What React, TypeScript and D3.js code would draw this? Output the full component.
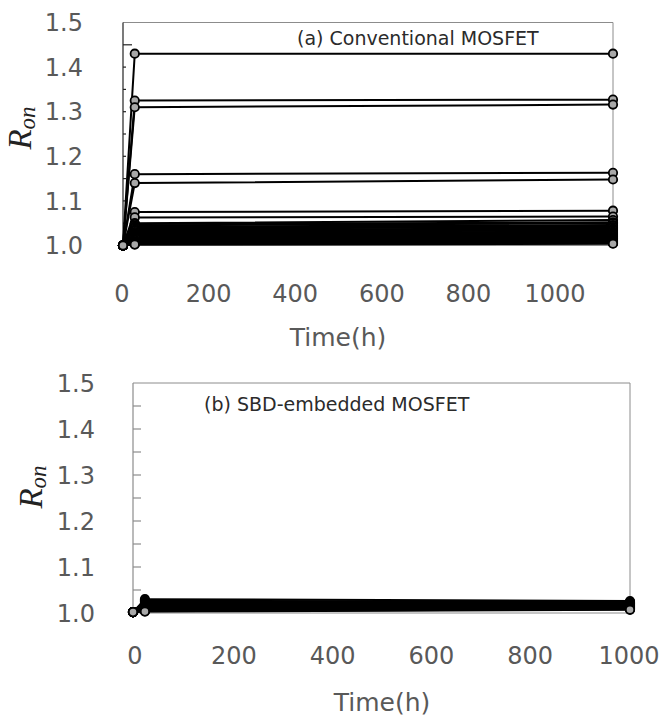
import React from "react";
import * as d3 from "d3";

// measurement times (h)
const times = [0, 24, 1000];

// (a) conventional MOSFET: Ron at 0 h, 24 h and 1000 h
const convStart = 1.0;
const convAt24 = [
  1.43, 1.325, 1.31, 1.16, 1.14, 1.075, 1.063, 1.05, 1.048, 1.045, 1.042, 1.04,
  1.038, 1.035, 1.033, 1.03, 1.028, 1.026, 1.024, 1.022, 1.02, 1.018, 1.016,
  1.014, 1.012, 1.01, 1.008, 1.006, 1.005, 1.004, 1.003, 1.002,
];
const convAt1000 = [
  1.43, 1.327, 1.316, 1.163, 1.148, 1.078, 1.065, 1.057, 1.052, 1.05, 1.046,
  1.044, 1.041, 1.038, 1.036, 1.034, 1.031, 1.029, 1.027, 1.025, 1.023, 1.021,
  1.019, 1.017, 1.015, 1.013, 1.011, 1.009, 1.008, 1.006, 1.005, 1.004,
];

// (b) SBD-embedded MOSFET
const sbdStart = 1.002;
const sbdAt24 = [
  1.03, 1.027, 1.025, 1.022, 1.02, 1.018, 1.016, 1.015, 1.013, 1.012, 1.011,
  1.01, 1.009, 1.008, 1.007, 1.006, 1.005, 1.004, 1.003,
];
const sbdAt1000 = [
  1.026, 1.024, 1.023, 1.022, 1.021, 1.02, 1.019, 1.018, 1.017, 1.016, 1.015,
  1.014, 1.013, 1.012, 1.011, 1.01, 1.009, 1.008, 1.007,
];

const yTicks = [1.0, 1.1, 1.2, 1.3, 1.4, 1.5];
const yMinorTicks = [1.05, 1.1, 1.15, 1.2, 1.25, 1.3, 1.35, 1.4, 1.45];
const xTicks = [0, 200, 400, 600, 800, 1000];

const tickFont = "'DejaVu Sans', Verdana, sans-serif";
const labelGray = "#595959";

type PanelProps = {
  title: string;
  titleX: number;
  titleY: number;
  start: number;
  at24: number[];
  at1000: number[];
  plotX: [number, number];
  plotY: [number, number];
  labelX: [number, number];
  yLabelRight: number;
  xLabelY: number;
  timeX: number;
  timeY: number;
  ronX: number;
  ronY: number;
  axisColor: string;
  tickLen: (v: number) => number;
  tickColor: string;
};

const Panel = (p: PanelProps) => {
  const x = d3.scaleLinear().domain([0, 1000]).range(p.plotX);
  const xLab = d3.scaleLinear().domain([0, 1000]).range(p.labelX);
  const y = d3.scaleLinear().domain([1.0, 1.5]).range(p.plotY);

  const series = p.at24.map((v, i) => [p.start, v, p.at1000[i]]);
  const line = d3
    .line<number>()
    .x((d, i) => x(times[i]))
    .y((d) => y(d));

  const [x0, x1] = p.plotX;
  const [yb, yt] = p.plotY;

  return (
    <g>
      {/* frame */}
      <line x1={x0} x2={x1} y1={yt} y2={yt} stroke="#8c8c8c" strokeWidth={1} />
      <line x1={x1} x2={x1} y1={yt} y2={yb} stroke="#8c8c8c" strokeWidth={1} />
      <line x1={x0} x2={x1} y1={yb} y2={yb} stroke="#8c8c8c" strokeWidth={1} />
      <line x1={x0} x2={x0} y1={yt} y2={yb} stroke={p.axisColor} strokeWidth={1.2} />
      {yMinorTicks.map((t) => (
        <line
          key={t}
          x1={x0}
          x2={x0 + p.tickLen(t)}
          y1={y(t)}
          y2={y(t)}
          stroke={p.tickColor}
          strokeWidth={1.2}
        />
      ))}

      {/* y tick labels */}
      {yTicks.map((t) => (
        <text
          key={t}
          x={p.yLabelRight}
          y={y(t)}
          dy="0.36em"
          textAnchor="end"
          fontFamily={tickFont}
          fontSize={24}
          fill={labelGray}
        >
          {d3.format(".1f")(t)}
        </text>
      ))}

      {/* x tick labels */}
      {xTicks.map((t) => (
        <text
          key={t}
          x={xLab(t)}
          y={p.xLabelY}
          dy="0.36em"
          textAnchor="middle"
          fontFamily={tickFont}
          fontSize={24}
          fill={labelGray}
        >
          {t}
        </text>
      ))}

      <text
        x={p.timeX}
        y={p.timeY}
        dy="0.36em"
        textAnchor="middle"
        fontFamily={tickFont}
        fontSize={25}
        fill={labelGray}
      >
        Time(h)
      </text>

      <text
        transform={`translate(${p.ronX},${p.ronY}) rotate(-90)`}
        textAnchor="middle"
        fontFamily="'Liberation Serif', serif"
        fontStyle="italic"
        fontSize={33}
        fill="#222"
      >
        R
        <tspan fontSize={23} dy={4}>
          on
        </tspan>
      </text>

      <text
        x={p.titleX}
        y={p.titleY}
        dy="0.36em"
        fontFamily={tickFont}
        fontSize={19}
        fill="#2b2b2b"
      >
        {p.title}
      </text>

      {/* data */}
      {series.map((s, i) => (
        <g key={i}>
          <path d={line(s) || ""} fill="none" stroke="#000" strokeWidth={2} />
          {s.map((v, j) => (
            <circle
              key={j}
              cx={x(times[j])}
              cy={y(v)}
              r={4.2}
              fill="#a8a8a8"
              stroke="#000"
              strokeWidth={1.8}
            />
          ))}
        </g>
      ))}
    </g>
  );
};

const App = () => {
  return (
    <svg
      width={665}
      height={719}
      style={{ position: "absolute", left: 0, top: 0, background: "#fff" }}
    >
      <Panel
        title="(a) Conventional MOSFET"
        titleX={297}
        titleY={38}
        start={convStart}
        at24={convAt24}
        at1000={convAt1000}
        plotX={[123, 613]}
        plotY={[245.5, 22.5]}
        labelX={[122, 555]}
        yLabelRight={83}
        xLabelY={293}
        timeX={338}
        timeY={337}
        ronX={31}
        ronY={128}
        axisColor="#222"
        tickLen={(v) => (v === 1.45 ? 9 : 3)}
        tickColor="#222"
      />
      <Panel
        title="(b) SBD-embedded MOSFET"
        titleX={204}
        titleY={404}
        start={sbdStart}
        at24={sbdAt24}
        at1000={sbdAt1000}
        plotX={[133, 630]}
        plotY={[613, 383]}
        labelX={[135, 629]}
        yLabelRight={95}
        xLabelY={655}
        timeX={382}
        timeY={702}
        ronX={42}
        ronY={487}
        axisColor="#8c8c8c"
        tickLen={() => 8}
        tickColor="#8c8c8c"
      />
    </svg>
  );
};

export default App;
